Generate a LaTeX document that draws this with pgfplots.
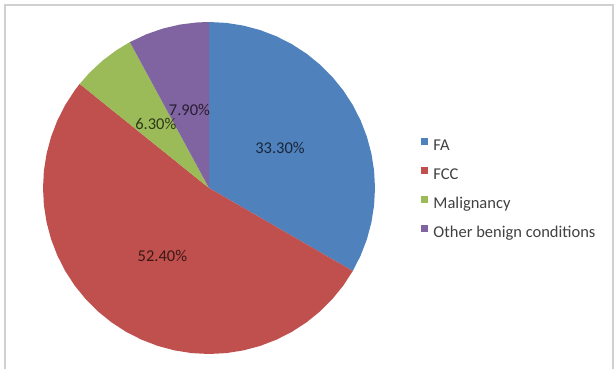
\documentclass[border=0pt]{standalone}
\usepackage{pgfplots}
\pgfplotsset{compat=1.18}
\usepackage{fontspec}
\setmainfont{Carlito}
\definecolor{faBlue}{HTML}{4F81BD}
\definecolor{fccRed}{HTML}{C0504D}
\definecolor{malGreen}{HTML}{9BBB59}
\definecolor{othPurple}{HTML}{8064A2}
\definecolor{frameGray}{HTML}{D0D0D0}
\begin{document}
\begin{tikzpicture}
\begin{axis}[
  scale only axis, width=616pt, height=368pt,
  xmin=-1.25904, xmax=2.45181, ymin=-1.08434, ymax=1.13253,
  hide axis, clip=false,
  legend cell align=left,
  legend style={draw=none, fill=none, inner sep=0pt, outer sep=0pt,
    at={(axis description cs:0.6834,0.4864)}, anchor=west,
    font=\fontsize{16.5}{19}\selectfont, text=black!75,
    column sep=5pt, row sep=13.6pt,
    nodes={inner sep=0pt, text height=10pt, text depth=3pt}},
  legend image code/.code={\fill[#1] (0pt,1.5pt) rectangle (7.5pt,9pt);},
]
% FA 33.30%
\addplot[fill=faBlue, draw=none, data cs=polar] coordinates {
 (0,0) (90,1) (84,1) (78,1) (72,1) (66,1) (60,1) (54,1) (48,1) (42,1) (36,1)
 (30,1) (24,1) (18,1) (12,1) (6,1) (0,1) (-6,1) (-12,1) (-18,1) (-24,1) (-30,1) (0,0)};
\addlegendentry{FA}
% FCC 52.40%
\addplot[fill=fccRed, draw=none, data cs=polar] coordinates {
 (0,0) (-30,1) (-36,1) (-42,1) (-48,1) (-54,1) (-60,1) (-66,1) (-72,1) (-78,1)
 (-84,1) (-90,1) (-96,1) (-102,1) (-108,1) (-114,1) (-120,1) (-126,1) (-132,1)
 (-138,1) (-144,1) (-150,1) (-156,1) (-162,1) (-168,1) (-174,1) (-180,1) (-186,1)
 (-192,1) (-198,1) (-204,1) (-210,1) (-216,1) (-218.83,1) (0,0)};
\addlegendentry{FCC}
% Malignancy 6.30%
\addplot[fill=malGreen, draw=none, data cs=polar] coordinates {
 (0,0) (141.17,1) (136,1) (130,1) (124,1) (118.47,1) (0,0)};
\addlegendentry{Malignancy}
% Other benign conditions 7.90%
\addplot[fill=othPurple, draw=none, data cs=polar] coordinates {
 (0,0) (118.47,1) (112,1) (106,1) (100,1) (94,1) (90,1) (0,0)};
\addlegendentry{Other benign conditions}
% data labels
\node[font=\fontsize{16.5}{19}\selectfont, text=faBlue!30!black] at (axis cs:0.428,0.244) {33.30\%};
\node[font=\fontsize{16.5}{19}\selectfont, text=fccRed!30!black] at (axis cs:-0.281,-0.412) {52.40\%};
\node[font=\fontsize{16.5}{19}\selectfont, text=malGreen!30!black] at (axis cs:-0.32,0.383) {6.30\%};
\node[font=\fontsize{16.5}{19}\selectfont, text=othPurple!30!black] at (axis cs:-0.118,0.468) {7.90\%};
% chart frame
\draw[frameGray, line width=1.3pt] (axis cs:-1.229,1.102) rectangle (axis cs:2.434,-1.13);
\end{axis}
\pgfresetboundingbox
\useasboundingbox (current axis.south west) rectangle (current axis.north east);
\end{tikzpicture}
\end{document}
